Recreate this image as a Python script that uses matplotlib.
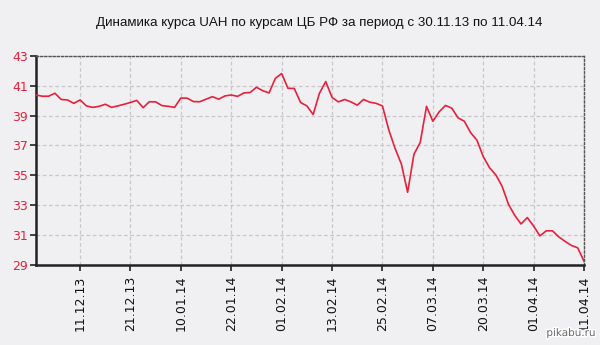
import matplotlib
matplotlib.use("Agg")
import matplotlib.pyplot as plt
import matplotlib.patheffects as pe
import numpy as np

title = "Динамика курса UAH по курсам ЦБ РФ за период с 30.11.13 по 11.04.14"

rates = [
    40.38, 40.30, 40.30, 40.50, 40.08, 40.05, 39.82, 40.05,
    39.65, 39.55, 39.62, 39.76, 39.55, 39.65, 39.76, 39.88,
    40.02, 39.53, 39.93, 39.92, 39.67, 39.62, 39.55, 40.18,
    40.17, 39.94, 39.93, 40.10, 40.27, 40.10, 40.32, 40.38,
    40.29, 40.52, 40.55, 40.90, 40.67, 40.52, 41.50, 41.82,
    40.83, 40.82, 39.88, 39.65, 39.07, 40.50, 41.28, 40.22,
    39.92, 40.08, 39.92, 39.70, 40.08, 39.90, 39.82, 39.65,
    38.05, 36.80, 35.75, 33.85, 36.40, 37.20, 39.62, 38.62,
    39.25, 39.68, 39.50, 38.85, 38.62, 37.85, 37.35, 36.25,
    35.50, 35.02, 34.25, 33.05, 32.30, 31.72, 32.15, 31.58,
    30.92, 31.26, 31.26, 30.85, 30.55, 30.28, 30.12, 29.22,
]

tick_labels = ["11.12.13", "21.12.13", "10.01.14", "22.01.14", "01.02.14",
               "13.02.14", "25.02.14", "07.03.14", "20.03.14", "01.04.14",
               "11.04.14"]
tick_index = [7, 15, 23, 31, 39, 47, 55, 63, 71, 79, 87]
y_ticks = [29, 31, 33, 35, 37, 39, 41, 43]

bg = "#f0f0f2"
red = "#e8203c"

fig = plt.figure(figsize=(6.0, 3.45), dpi=100, facecolor=bg)
ax = fig.add_axes([36/600, 1-264.5/345, (584-36)/600, (264.5-56)/345])
ax.set_facecolor(bg)

x = np.arange(len(rates))
ax.plot(x, rates, color=red, lw=1.2, zorder=3)

ax.set_xlim(0, len(rates) - 1)
ax.set_ylim(29, 43)
ax.set_yticks(y_ticks)
ax.set_yticklabels([str(v) for v in y_ticks], color=red, fontsize=9,
                   family="DejaVu Sans")
ax.set_xticks(tick_index)
ax.set_xticklabels(tick_labels, rotation=90, fontsize=9, color="#111111",
                   family="DejaVu Sans")

ax.grid(True, color="#c8c8c8", ls=(0, (3, 2)), lw=0.9, zorder=1)

for s in ("left", "bottom"):
    ax.spines[s].set_color("#222222")
    ax.spines[s].set_linewidth(1.8)
for s in ("top", "right"):
    ax.spines[s].set_color("#555555")
    ax.spines[s].set_linewidth(1.0)
    ax.spines[s].set_linestyle((0, (1.5, 1.5)))

ax.tick_params(axis="both", direction="out", length=4, width=1.2,
               color="#222222", pad=2)
ax.tick_params(axis="x", pad=4)

fig.text(319/600, 1-23/345, title, ha="center", va="center", fontsize=9.6,
         family="Liberation Sans", color="#111111")

fig.text(596/600, 1-333/345, "pikabu.ru", ha="right", va="center", fontsize=7.5,
         family="DejaVu Sans", color="#666666",
         path_effects=[pe.withStroke(linewidth=2, foreground="white")])

fig.savefig("out.png", dpi=100, facecolor=bg)
